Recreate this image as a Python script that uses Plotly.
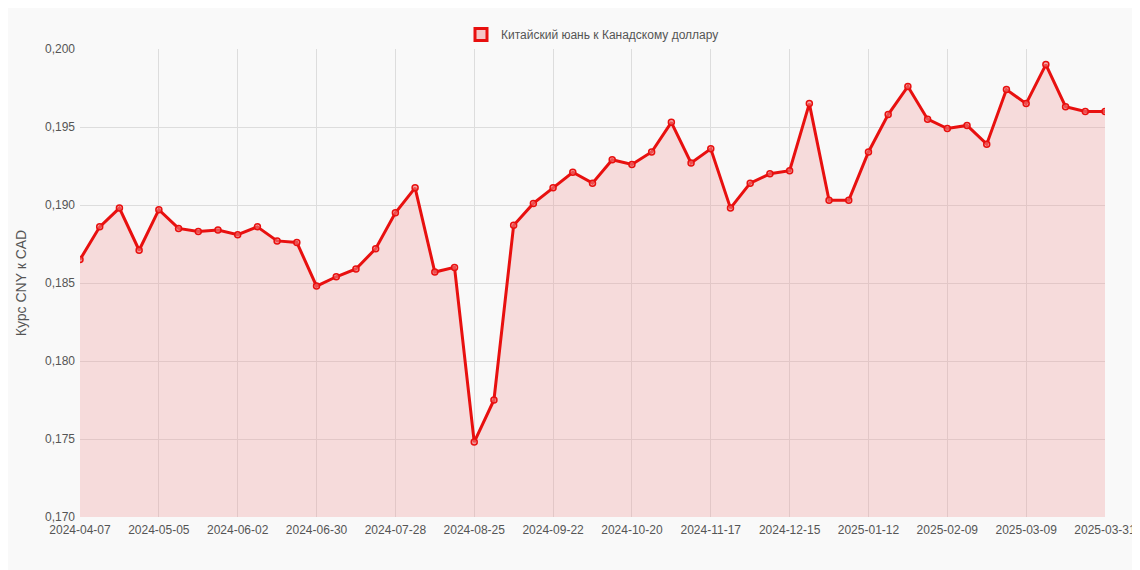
import plotly.graph_objects as go
import pandas as pd

dates = [d.strftime("%Y-%m-%d") for d in pd.date_range("2024-04-07", "2025-03-30", freq="7D")] + ["2025-03-31"]
values = [0.1865, 0.1886, 0.1898, 0.1871, 0.1897, 0.1885, 0.1883, 0.1884, 0.1881, 0.1886,
          0.1877, 0.1876, 0.1848, 0.1854, 0.1859, 0.1872, 0.1895, 0.1911, 0.1857, 0.1860,
          0.1748, 0.1775, 0.1887, 0.1901, 0.1911, 0.1921, 0.1914, 0.1929, 0.1926, 0.1934,
          0.1953, 0.1927, 0.1936, 0.1898, 0.1914, 0.1920, 0.1922, 0.1965, 0.1903, 0.1903,
          0.1934, 0.1958, 0.1976, 0.1955, 0.1949, 0.1951, 0.1939, 0.1974, 0.1965, 0.1990,
          0.1963, 0.1960, 0.1960]
series_name = "Китайский юань к Канадскому доллару"
y_title = "Курс CNY к CAD"
y_ticks = [0.170, 0.175, 0.180, 0.185, 0.190, 0.195, 0.200]
y_labels = ["0,170", "0,175", "0,180", "0,185", "0,190", "0,195", "0,200"]
x_ticks = dates[::4] + [dates[-1]]

fig = go.Figure()
fig.add_trace(go.Scatter(
    x=dates, y=values, name=series_name, mode="lines+markers", showlegend=False,
    line=dict(color="#e8100f", width=3),
    marker=dict(size=6, color="rgba(240,120,120,0.6)", line=dict(color="#e8100f", width=1.5)),
    fill="tozeroy", fillcolor="rgba(240,150,150,0.3)",
))
fig.add_trace(go.Bar(
    x=[None], y=[None], name=series_name, showlegend=True,
    marker=dict(color="rgba(240,150,150,0.5)", line=dict(color="#e8100f", width=3)),
))
fig.update_layout(
    width=1140, height=570,
    margin=dict(l=60, r=32, t=16, b=61),
    paper_bgcolor="#f9f9f9", plot_bgcolor="#f9f9f9",
    font=dict(family="Liberation Sans, Arial", size=12, color="#555"),
    showlegend=True,
    legend=dict(orientation="h", x=0.5, xanchor="center", y=1.0, yanchor="bottom", font=dict(size=12, color="#555")),
)
fig.update_xaxes(type="category", tickvals=x_ticks, ticktext=x_ticks, range=[0, len(dates) - 1],
                 showgrid=True, gridcolor="#ddd", showline=False, ticks="", tickangle=0, ticklabelstandoff=4)
fig.update_yaxes(range=[0.170, 0.200], tickvals=y_ticks, ticktext=y_labels, ticklabelstandoff=4,
                 showgrid=True, gridcolor="#ddd", zeroline=False, title=dict(text=y_title, font=dict(size=14)))
fig.write_html("out.html")
